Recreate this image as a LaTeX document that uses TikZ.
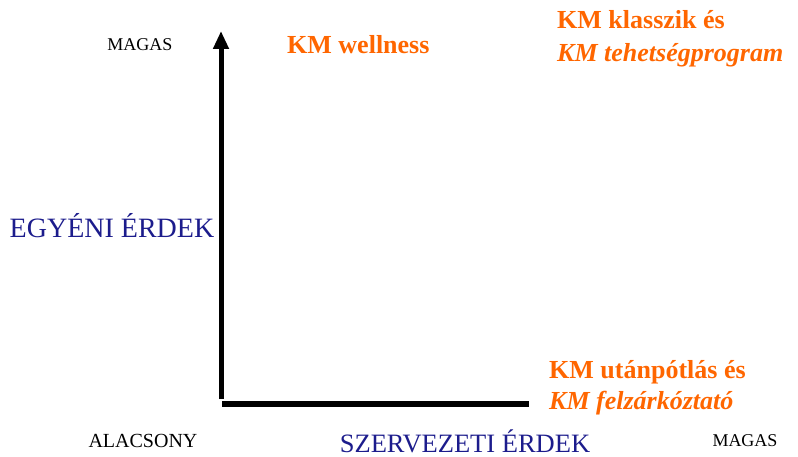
\documentclass[tikz,border=0pt]{standalone}
\usepackage{fontspec}
\setmainfont{Liberation Serif}
\usetikzlibrary{arrows.meta}
\definecolor{kmorange}{RGB}{255,102,0}
\definecolor{kmnavy}{RGB}{28,28,140}
\tikzset{
  lbl/.style={inner sep=0pt, font=\fontsize{18}{20}\selectfont, text=black},
  axislbl/.style={inner sep=0pt, font=\fontsize{28}{32}\selectfont, text=kmnavy},
  kmtext/.style={inner sep=0pt, anchor=base west, font=\fontsize{26}{30}\selectfont\bfseries, text=kmorange},
  axis/.style={line width=5pt, draw=black},
}
\begin{document}
\begin{tikzpicture}[x=1pt,y=-1pt]
\useasboundingbox (0,0) rectangle (798,457);
% axes
\coordinate (vbot) at (221,399);
\coordinate (vtop) at (221,31);
\coordinate (hl) at (222,404);
\coordinate (hr) at (529,404);
\draw[axis, -{Triangle[width=15pt,length=18pt]}] (vbot) -- (vtop);
\draw[axis, line width=5.5pt] (hl) -- (hr);
% labels
\node[lbl] (magasy) at (140,45) {MAGAS};
\node[lbl, font=\fontsize{20}{22}\selectfont] (alacsony) at (143,441) {ALACSONY};
\node[lbl] (magasx) at (745,441) {MAGAS};
\node[axislbl] (egyeni) at (112,226) {EGYÉNI ÉRDEK};
\node[axislbl, font=\fontsize{26.5}{30}\selectfont] (szerv) at (465,441) {SZERVEZETI ÉRDEK};
% KM texts
\node[kmtext] (well) at (287,54) {KM wellness};
\node[kmtext] (klass) at (557,29) {KM klasszik és};
\node[kmtext] (tehet) at (557,62) {\itshape KM tehetségprogram};
\node[kmtext] (utan) at (549,378) {KM utánpótlás és};
\node[kmtext] (felz) at (549,409) {\itshape KM felzárkóztató};
\end{tikzpicture}
\end{document}
